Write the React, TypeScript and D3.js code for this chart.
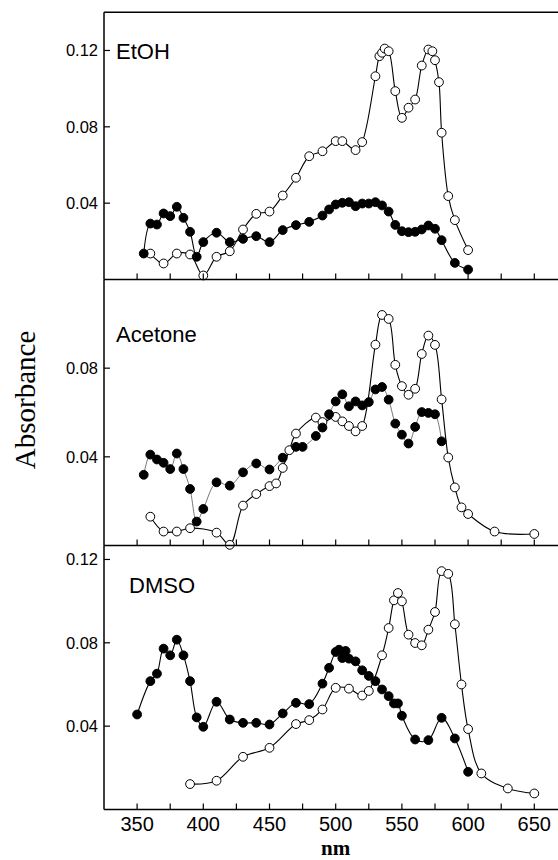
import React from "react";
import * as d3 from "d3";

// ---------- Data ----------
const etohFilledNm = [355, 360, 365, 370, 375, 380, 385, 390, 395, 400, 410, 420, 430, 440, 450, 460, 470, 480, 490, 495, 500, 505, 510, 515, 520, 525, 530, 535, 540, 545, 550, 555, 560, 565, 570, 575, 580, 590, 600];
const etohFilledAbs = [0.0136, 0.0293, 0.0288, 0.0346, 0.0332, 0.0381, 0.0323, 0.025, 0.0119, 0.0196, 0.0245, 0.0196, 0.0213, 0.0227, 0.0196, 0.0259, 0.0285, 0.0302, 0.0335, 0.0367, 0.0393, 0.0402, 0.0405, 0.0384, 0.0398, 0.0398, 0.0405, 0.0388, 0.0356, 0.0286, 0.0253, 0.0248, 0.025, 0.0262, 0.0283, 0.0266, 0.0206, 0.0087, 0.0052];
const etohOpenNm = [360, 370, 380, 390, 400, 410, 420, 430, 440, 450, 460, 470, 480, 490, 500, 505, 515, 520, 530, 533, 535, 537, 540, 545, 550, 555, 560, 565, 570, 573, 575, 578, 580, 585, 590, 600];
const etohOpenAbs = [0.0136, 0.0084, 0.0136, 0.0131, 0.0021, 0.0119, 0.0148, 0.0262, 0.0344, 0.0356, 0.044, 0.0533, 0.0646, 0.0672, 0.0725, 0.0725, 0.0678, 0.072, 0.1065, 0.117, 0.1188, 0.121, 0.1196, 0.0987, 0.0847, 0.09, 0.0943, 0.1121, 0.1205, 0.1196, 0.1149, 0.1034, 0.0769, 0.0437, 0.0311, 0.0154];

const acetoneFilledNm = [355, 360, 365, 370, 375, 380, 385, 390, 395, 400, 410, 420, 430, 440, 450, 460, 470, 475, 485, 490, 495, 500, 505, 510, 515, 520, 525, 530, 535, 540, 545, 550, 555, 560, 565, 570, 575, 580];
const acetoneFilledAbs = [0.0319, 0.041, 0.0388, 0.0373, 0.0345, 0.0415, 0.0345, 0.0255, 0.0108, 0.0165, 0.0285, 0.027, 0.033, 0.037, 0.0343, 0.0396, 0.0445, 0.0445, 0.0494, 0.0532, 0.0592, 0.065, 0.0682, 0.0628, 0.065, 0.0632, 0.0647, 0.0704, 0.0715, 0.0658, 0.055, 0.05, 0.046, 0.0535, 0.0602, 0.0598, 0.0592, 0.047];
const acetoneOpenNm = [360, 370, 380, 390, 410, 420, 430, 440, 450, 455, 460, 465, 470, 485, 490, 500, 505, 510, 515, 520, 530, 535, 540, 545, 550, 555, 560, 565, 570, 575, 580, 585, 590, 595, 600, 620, 650];
const acetoneOpenAbs = [0.013, 0.0063, 0.0063, 0.0078, 0.0058, 0.0003, 0.018, 0.0232, 0.0268, 0.028, 0.035, 0.043, 0.0505, 0.0577, 0.0557, 0.058, 0.056, 0.0539, 0.0515, 0.0539, 0.0906, 0.104, 0.1022, 0.0815, 0.0719, 0.068, 0.0707, 0.0864, 0.0947, 0.0905, 0.0659, 0.0397, 0.0262, 0.0172, 0.0142, 0.0063, 0.0052];

const dmsoFilledNm = [350, 360, 365, 370, 375, 380, 385, 390, 395, 400, 410, 420, 430, 440, 450, 460, 470, 480, 490, 495, 500, 502.5, 505, 507.5, 510, 515, 520, 525, 530, 535, 540, 544, 547, 550, 560, 570, 580, 590, 600];
const dmsoFilledAbs = [0.0456, 0.0616, 0.0652, 0.0772, 0.074, 0.0815, 0.074, 0.0616, 0.0442, 0.0397, 0.0517, 0.0432, 0.0416, 0.0416, 0.0408, 0.0461, 0.0512, 0.0506, 0.0604, 0.068, 0.0756, 0.0767, 0.0727, 0.0761, 0.0724, 0.0711, 0.0668, 0.0641, 0.0616, 0.0576, 0.0544, 0.0509, 0.0509, 0.045, 0.0336, 0.0333, 0.044, 0.0341, 0.0181];
const dmsoOpenNm = [390, 410, 430, 450, 470, 480, 490, 500, 510, 520, 525, 535, 540, 544, 547, 550, 555, 560, 565, 570, 575, 580, 585, 590, 595, 600, 610, 630, 650];
const dmsoOpenAbs = [0.0122, 0.0138, 0.0253, 0.0296, 0.041, 0.0429, 0.048, 0.0584, 0.058, 0.0547, 0.0569, 0.074, 0.0871, 0.1004, 0.1039, 0.0999, 0.0839, 0.0799, 0.0788, 0.0863, 0.0948, 0.1144, 0.1131, 0.0889, 0.06, 0.0386, 0.0173, 0.0101, 0.0077];

const xTicks = [350, 400, 450, 500, 550, 600, 650];
const xMinorTicks = [375, 425, 475, 525, 575, 625];
const panelLabels = ["EtOH", "Acetone", "DMSO"];
const panelYMax = [0.14, 0.12, 0.1267];
const panelYTicks = [[0.04, 0.08, 0.12], [0.04, 0.08], [0.04, 0.08, 0.12]];

// ---------- Layout ----------
const W = 558;
const H = 860;
const left = 104;
const panelTops = [12.3, 279.5, 545.5];
const panelBottoms = [279.5, 545.5, 809.5];
const labelPos = [{ x: 116, y: 59 }, { x: 116, y: 342 }, { x: 129, y: 593 }];

const x = d3.scaleLinear().domain([325, 675]).range([left, left + 350 * 1.324]);

type Series = { nm: number[]; abs: number[]; filled: boolean; thin?: boolean };

const panels: Series[][] = [
  [
    { nm: etohOpenNm, abs: etohOpenAbs, filled: false },
    { nm: etohFilledNm, abs: etohFilledAbs, filled: true },
  ],
  [
    { nm: acetoneOpenNm, abs: acetoneOpenAbs, filled: false },
    { nm: acetoneFilledNm, abs: acetoneFilledAbs, filled: true, thin: true },
  ],
  [
    { nm: dmsoOpenNm, abs: dmsoOpenAbs, filled: false },
    { nm: dmsoFilledNm, abs: dmsoFilledAbs, filled: true },
  ],
];

const sans = "'Liberation Sans', Arial, Helvetica, sans-serif";
const serif = "'Liberation Serif', 'Times New Roman', serif";

export default function App() {
  return (
    <svg
      width={W}
      height={H}
      style={{ position: "absolute", left: 0, top: 0, background: "#fff" }}
      xmlns="http://www.w3.org/2000/svg"
    >
      <rect x={0} y={0} width={W} height={H} fill="#fff" />
      {panels.map((series, pi) => {
        const y = d3
          .scaleLinear()
          .domain([0, panelYMax[pi]])
          .range([panelBottoms[pi], panelTops[pi]]);
        return (
          <g key={pi}>
            {series.map((s, si) => {
              const pts: [number, number][] = s.nm.map((n, i) => [x(n), y(s.abs[i])]);
              const gen = d3
                .line<[number, number]>()
                .x((d) => d[0])
                .y((d) => d[1])
                .curve(d3.curveCatmullRom.alpha(0.5));
              return (
                <path
                  key={"l" + si}
                  d={gen(pts) || ""}
                  fill="none"
                  stroke={s.thin ? "#555" : "#000"}
                  strokeWidth={s.thin ? 0.8 : 1.1}
                />
              );
            })}
            {series.map((s, si) => (
              <g key={"m" + si}>
                {s.nm.map((n, i) => (
                  <circle
                    key={i}
                    cx={x(n)}
                    cy={y(s.abs[i])}
                    r={4.4}
                    fill={s.filled ? "#000" : "#fff"}
                    stroke="#000"
                    strokeWidth={1}
                  />
                ))}
              </g>
            ))}
            <line x1={left} x2={left} y1={panelTops[pi]} y2={panelBottoms[pi]} stroke="#000" strokeWidth={1.5} />
            <line x1={left} x2={W + 10} y1={panelBottoms[pi]} y2={panelBottoms[pi]} stroke="#000" strokeWidth={1.5} />
            {pi === 0 && (
              <line x1={left} x2={W + 10} y1={panelTops[0]} y2={panelTops[0]} stroke="#000" strokeWidth={1.5} />
            )}
            {xTicks.concat(xMinorTicks).map((t) => (
              <line
                key={"xt" + t}
                x1={x(t)}
                x2={x(t)}
                y1={panelBottoms[pi]}
                y2={panelBottoms[pi] - 6}
                stroke="#000"
                strokeWidth={1.2}
              />
            ))}
            {panelYTicks[pi].map((t) => (
              <g key={"yt" + t}>
                <line x1={left} x2={left + 6} y1={y(t)} y2={y(t)} stroke="#000" strokeWidth={1.2} />
                <text
                  x={left - 6}
                  y={y(t)}
                  dy="0.36em"
                  textAnchor="end"
                  fontFamily={sans}
                  fontSize={16.5}
                  fill="#000"
                >
                  {t.toFixed(2)}
                </text>
              </g>
            ))}
            <text x={labelPos[pi].x} y={labelPos[pi].y} fontFamily={sans} fontSize={22} fill="#000">
              {panelLabels[pi]}
            </text>
          </g>
        );
      })}
      {xTicks.map((t) => (
        <text
          key={"xl" + t}
          x={x(t)}
          y={831}
          textAnchor="middle"
          fontFamily={sans}
          fontSize={20}
          fill="#000"
        >
          {t}
        </text>
      ))}
      <text x={x(500)} y={855} textAnchor="middle" fontFamily={serif} fontWeight="bold" fontSize={21} fill="#000">
        nm
      </text>
      <text
        transform="translate(35,400) rotate(-90)"
        textAnchor="middle"
        fontFamily={serif}
        fontSize={29}
        fill="#000"
      >
        Absorbance
      </text>
    </svg>
  );
}
